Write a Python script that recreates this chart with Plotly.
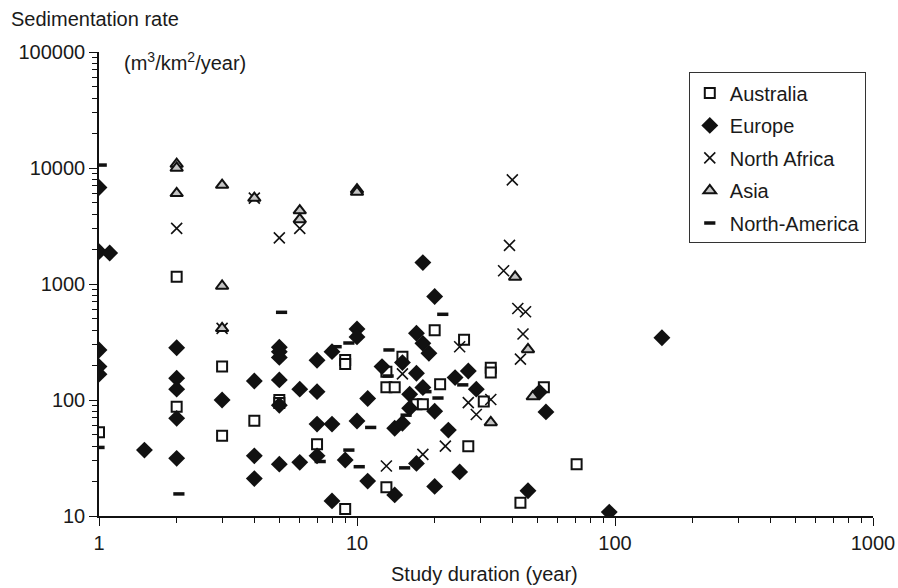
import plotly.graph_objects as go

# ---- data ----
australia_x = [1, 2, 2, 3, 3, 4, 5, 5, 7, 9, 9, 9, 13, 13, 14, 13, 15, 17, 18, 20, 21, 26, 27, 31, 33, 33, 43, 53, 71]
australia_y = [52.7, 1155, 87.5, 194, 49.2, 66.4, 100, 94, 41.5, 221, 204, 11.5, 175, 129, 129, 17.7, 236, 92, 92, 400, 137, 330, 40, 97, 190, 173, 13, 129, 28]

europe_x = [1, 1, 1.1, 1, 1, 1, 1.5, 2, 2, 2, 2, 2, 3, 4, 4, 4, 5, 5, 5, 5, 5, 5, 6, 6, 7, 7, 7, 7, 8, 8, 8, 9,
            10, 10, 10, 11, 11, 12.5, 14, 14, 15, 15, 16, 16, 17, 17, 17, 18, 18, 18, 19, 20, 20, 20, 22.6,
            24, 25, 27, 29, 46, 51, 54, 95, 152]
europe_y = [6800, 1900, 1850, 270, 194, 167, 37, 282, 154, 124, 69.5, 31.4, 100, 146, 33, 21, 285, 260, 233, 149, 90, 28,
            124, 29, 220, 118, 62, 33, 261, 62, 13.5, 30.4, 410, 350, 66, 103, 20, 194, 57, 15.2, 210, 63, 112, 85,
            376, 170, 28.4, 1530, 308, 128, 253, 780, 80, 18, 55, 156, 24, 178, 124, 16.5, 117, 79, 10.8, 344]

nafrica_x = [2, 3, 4, 5, 6, 13, 15, 18, 22, 25, 27, 29, 33, 37, 39, 40, 42, 45, 44, 43]
nafrica_y = [3020, 415, 5500, 2500, 3020, 27, 168, 34, 40, 288, 95, 75, 101, 1300, 2150, 7900, 615, 577, 371, 225]

asia_x = [2, 2, 2, 3, 3, 3, 4, 6, 6, 10, 10, 33, 41, 46, 48]
asia_y = [10800, 10000, 6050, 7130, 961, 415, 5500, 4300, 3600, 6500, 6200, 64, 1150, 273, 107]

namerica_x = [1.02, 1, 2.04, 5.1, 7.2, 8.3, 9.3, 9.3, 10.2, 11.3, 13.3, 13.2, 15.3, 15.5, 18.5, 20.6, 21.5, 25.7]
namerica_y = [10600, 39, 15.5, 570, 29.5, 288, 310, 37, 26.6, 58, 270, 161, 26, 74, 118, 104, 548, 135]

x_ticks = [1, 10, 100, 1000]
x_tick_labels = ["1", "10", "100", "1000"]
y_ticks = [10, 100, 1000, 10000, 100000]
y_tick_labels = ["10", "100", "1000", "10000", "100000"]

FONT = "Liberation Sans, Arial, Helvetica, sans-serif"
FS = 20

fig = go.Figure()
fig.add_trace(go.Scatter(x=australia_x, y=australia_y, mode="markers", name="Australia",
                         legendgroup="a",
                         marker=dict(symbol="square", size=10, color="white",
                                     line=dict(color="#111", width=2))))
fig.add_trace(go.Scatter(x=europe_x, y=europe_y, mode="markers", name="Europe",
                         legendgroup="b",
                         marker=dict(symbol="diamond", size=13, color="#111",
                                     line=dict(color="#111", width=0))))
fig.add_trace(go.Scatter(x=nafrica_x, y=nafrica_y, mode="markers", name="North Africa",
                         legendgroup="c",
                         marker=dict(symbol="x-thin", size=11, color="#111",
                                     line=dict(color="#111", width=1.6))))
fig.add_trace(go.Scatter(x=asia_x, y=asia_y, mode="markers", name="Asia",
                         legendgroup="d",
                         marker=dict(symbol="triangle-up", size=11, color="#c4c4c4",
                                     line=dict(color="#111", width=2))))
fig.add_trace(go.Scatter(x=namerica_x, y=namerica_y, mode="markers", name="North-America",
                         legendgroup="e",
                         marker=dict(symbol="line-ew", size=8, color="#111",
                                     line=dict(color="#111", width=3.5))))

minor_x = [k * 10 ** d for d in range(0, 3) for k in range(2, 10)]
minor_y = [k * 10 ** d for d in range(1, 5) for k in range(2, 10)]

axis_common = dict(showgrid=False, zeroline=False, automargin=False,
                   showline=True, linecolor="#111", linewidth=1.5,
                   ticks="outside", ticklen=8, tickwidth=1.3, tickcolor="#111",
                   tickfont=dict(size=FS, family=FONT, color="#1a1a1a"))

fig.update_layout(
    width=898, height=588,
    margin=dict(l=99, r=25, t=52, b=72),
    paper_bgcolor="white", plot_bgcolor="white",
    font=dict(family=FONT, size=FS, color="#1a1a1a"),
    showlegend=True,
    legend=dict(x=0.762, y=0.956, xanchor="left", yanchor="top",
                bordercolor="#333", borderwidth=1, bgcolor="white",
                font=dict(size=FS, family=FONT, color="#1a1a1a"),
                tracegroupgap=3.5, itemwidth=30),
    xaxis=dict(type="log", range=[0, 3], tickvals=x_ticks, ticktext=x_tick_labels,
               minor=dict(ticks="outside", ticklen=5, tickwidth=1, tickcolor="#111",
                          tickvals=minor_x, showgrid=False),
               **axis_common),
    yaxis=dict(type="log", range=[1, 5], tickvals=y_ticks, ticktext=y_tick_labels,
               minor=dict(ticks="outside", ticklen=5, tickwidth=1, tickcolor="#111",
                          tickvals=minor_y, showgrid=False),
               **axis_common),
    annotations=[
        dict(text="Sedimentation rate", xref="paper", yref="paper", x=-0.116, y=1.072,
             xanchor="left", yanchor="middle", showarrow=False, font=dict(size=FS)),
        dict(text="(m<sup>3</sup>/km<sup>2</sup>/year)", xref="paper", yref="paper", x=0.030, y=0.980,
             xanchor="left", yanchor="middle", showarrow=False, font=dict(size=FS)),
        dict(text="Study duration (year)", xref="paper", yref="paper", x=0.4987, y=-0.098,
             xanchor="center", yanchor="top", showarrow=False, font=dict(size=FS)),
    ],
)

fig.write_html("out.html", config={"displayModeBar": False},
               post_script="document.body.style.margin='0';document.body.style.overflow='hidden';")
